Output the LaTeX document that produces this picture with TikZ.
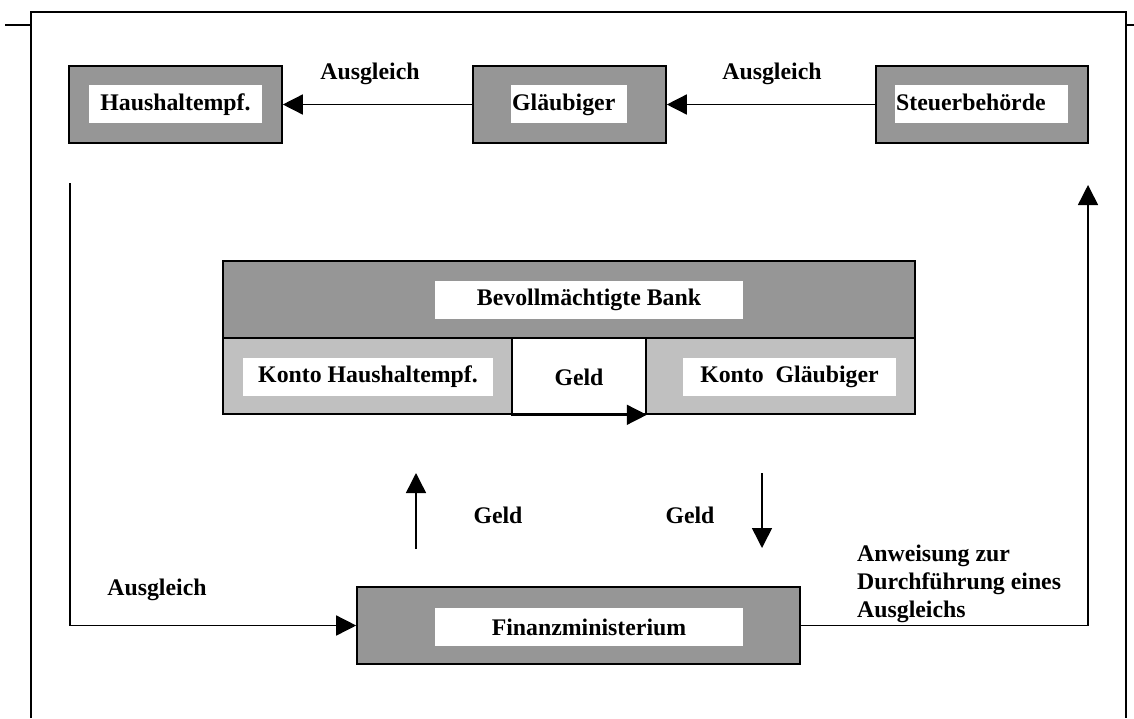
\documentclass[tikz,border=0pt]{standalone}
\usepackage{fontspec}
\setmainfont{Liberation Serif}
\usetikzlibrary{arrows.meta}
\definecolor{boxgray}{RGB}{150,150,150}
\definecolor{cellgray}{RGB}{192,192,192}
\begin{document}
\begin{tikzpicture}[x=1pt,y=-1pt,
  font=\fontsize{23.8pt}{28pt}\selectfont\bfseries,
  outer/.style={draw=black,line width=1.6pt,fill=boxgray,inner sep=0pt,minimum height=77pt},
  cell/.style={draw=black,line width=1.6pt,inner sep=0pt},
  label/.style={fill=white,inner sep=0pt,minimum height=38pt},
  txt/.style={inner sep=0pt},
  conn/.style={line width=1.5pt,-{Triangle[length=20pt,width=20pt]}},
  frame/.style={line width=1.5pt}]
\useasboundingbox (0,0) rectangle (1134,718);
% frame
\draw[frame] (31,718) -- (31,12) -- (1126,12) -- (1126,718);
\draw[frame] (5,25) -- (31,25);
\draw[frame] (1126,25) -- (1134,25);
% top boxes
\node[outer,minimum width=213pt] (hh) at (175.5,104.5) {};
\node[label,minimum width=173pt] (hhbox) at (175.5,104) {};
\node[txt,anchor=base] (hhl) at (175.5,110) {Haushaltempf.};
\node[outer,minimum width=193pt] (gl) at (569.5,104.5) {};
\node[label,minimum width=116pt] (glbox) at (569,104) {};
\node[txt,anchor=base west] (gll) at (512,110) {Gläubiger};
\node[outer,minimum width=212pt] (st) at (982,104.5) {};
\node[label,minimum width=173pt] (stbox) at (981.5,104) {};
\node[txt,anchor=base west] (stl) at (896,110) {Steuerbehörde};
\draw[conn] (gl.west) -- (hh.east);
\draw[conn] (st.west) -- (gl.east);
\node[txt] (a1) at (370,74) {Ausgleich};
\node[txt] (a2) at (772,74) {Ausgleich};
% bank
\node[cell,fill=boxgray,minimum width=692pt,minimum height=77pt] (bank) at (569,299.5) {};
\node[cell,fill=cellgray,minimum width=289pt,minimum height=76pt] (khh) at (367.5,376) {};
\node[cell,fill=white,minimum width=134pt,minimum height=76pt] (geld) at (579,376) {};
\node[cell,fill=cellgray,minimum width=269pt,minimum height=76pt] (kgl) at (780.5,376) {};
\node[label,minimum width=308pt] (bankl) at (589,299.5) {Bevollmächtigte Bank};
\node[label,minimum width=250pt] (khhl) at (368,376.5) {Konto Haushaltempf.};
\node[label,minimum width=213pt] (kgll) at (789.5,376.5) {Konto~ Gläubiger};
\node[txt] (geldt) at (579,377) {Geld};
\draw[conn] (geld.south west) -- (geld.south east);
% finanz
\node[outer,minimum width=443pt] (fm) at (578.5,625.5) {};
\node[label,minimum width=308pt] (fml) at (589,627) {Finanzministerium};
% geld arrows
\coordinate (u1) at (416,549);
\coordinate (u2) at (416,473);
\coordinate (d1) at (762,473);
\coordinate (d2) at (762,548);
\draw[conn] (u1) -- (u2);
\draw[conn] (d1) -- (d2);
\node[txt] (g1) at (498,515) {Geld};
\node[txt] (g2) at (690,515) {Geld};
% side connectors
\coordinate (ls) at (70,183);
\coordinate (rt) at (1088,185);
\draw[conn] (ls) |- (fm.west);
\draw[conn] (fm.east) -| (rt);
\node[txt] (a3) at (157,590) {Ausgleich};
\node[txt,anchor=north west,align=left] (anw) at (857,545) {Anweisung zur\\Durchführung eines\\Ausgleichs};
\end{tikzpicture}
\end{document}
